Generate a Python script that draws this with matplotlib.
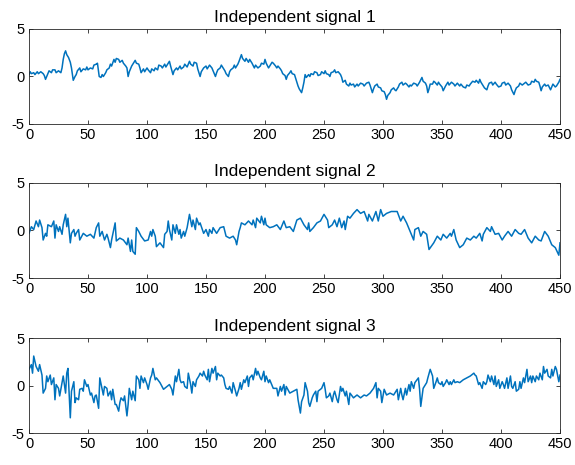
import matplotlib
matplotlib.use("Agg")
import matplotlib.pyplot as plt
import numpy as np

plt.rcParams['font.family'] = ['Liberation Sans', 'DejaVu Sans']
plt.rcParams['axes.unicode_minus'] = False

titles = ["Independent signal 1", "Independent signal 2", "Independent signal 3"]
xticks = [0, 50, 100, 150, 200, 250, 300, 350, 400, 450]
yticks = [-5, 0, 5]

s1 = [
(0,0.2),(1,0.5),(2,0.3),(4,0.4),(5,0.2),(7,0.5),(8,0.3),(10,0.5),(12,0.3),(13,0.1),(14,-0.3),
(16,0.3),(17,0.6),(19,0.4),(20,0.7),(22,0.7),(23,0.4),(25,0.6),(27,0.4),(28,0.9),(29,1.8),(30,2.4),
(31,2.7),(32,2.3),(33.5,2.0),(35,1.5),(36,0.9),(37.5,-0.4),(39,0.0),(40,0.2),(41,0.6),(43,0.9),(44,0.5),
(46,0.8),(48,0.7),(49,1.0),(50,0.7),(52,0.9),(54,0.8),(55,1.2),(57,1.3),(58,1.4),(59.5,0.0),(61,-0.1),
(62,0.2),(63,0.0),(65,0.4),(66,0.7),(68,0.9),(69,1.3),(70,1.1),(72,1.8),(73,1.5),(74,1.9),(76,1.8),
(77,1.5),(79,1.7),(80,1.4),(82,1.1),(83,0.9),(84,0.0),(85,0.5),(87,1.1),(88,1.3),(90,1.7),(91,1.4),
(93,1.3),(94,0.9),(95,0.4),(97,0.8),(98,0.5),(100,0.9),(101,0.7),(103,0.4),(104,0.8),(106,0.6),(107,0.9),
(109,0.7),(110,1.2),(112,1.1),(113,0.9),(115,1.3),(116,1.0),(118,1.4),(119,1.6),(120,1.1),(122,0.2),
(123,0.6),(125,0.9),(126,0.7),(128,1.1),(129,0.8),(131,1.0),(132,1.3),(134,1.0),(136,1.6),(137,1.3),
(139,1.1),(140,1.5),(142,1.4),(143,0.8),(145,0.0),(146,0.5),(148,0.9),(150,1.1),(151,0.8),(153,1.2),
(155,0.9),(156,0.6),(158,0.0),(159,0.4),(160,0.7),(162,0.9),(163,1.2),(165,0.8),(166,0.6),(167,0.3),
(169,0.0),(170,0.5),(171,0.7),(173,0.9),(174,1.2),(175,0.9),(177,1.3),(178,1.6),(180,2.3),(181,1.9),
(183,1.6),(184,1.9),(186,1.5),(187,1.8),(189,1.4),(191,0.9),(192,1.2),(194,0.9),(196,1.1),(197,1.4),
(199,1.3),(200,1.8),(201,1.4),(203,0.9),(204,1.1),(206,1.5),(207,1.4),(209,1.1),(210,0.9),(211,1.1),
(213,0.8),(214,0.6),(215,0.3),(217,0.1),(218,-0.3),(219,0.1),(221,0.4),(222,0.6),(223,0.3),(225,0.2),
(226,-0.2),(228,-1.0),(229,-1.3),(230,-1.5),(231,-1.7),(232,-1.2),(233,-0.6),(234,0.2),(235,-0.1),
(237,0.2),(238,0.0),(239,0.3),(241,0.2),(242,0.5),(244,0.4),(245,0.1),(247,0.2),(248,0.5),(250,0.3),
(251,0.6),(252,0.3),(254,0.2),(255,0.0),(256,0.4),(258,0.5),(259,0.7),(260,0.4),(262,0.5),(264,0.2),
(265,-0.1),(266,-0.6),(268,-0.4),(269,-0.8),(271,-1.0),(272,-0.7),(273,-0.9),(275,-0.8),(276,-1.1),
(278,-0.8),(279,-1.0),(281,-0.7),(283,-0.8),(284,-1.0),(286,-0.7),(288,-0.6),(289,-0.9),(290,-1.3),
(291,-1.7),(292,-1.3),(293,-1.0),(295,-0.8),(296,-1.1),(298,-1.2),(299,-1.5),(301,-1.6),(302,-1.9),
(303,-2.4),(304,-2.0),(306,-1.7),(307,-1.4),(309,-1.2),(310,-1.4),(311,-1.5),(313,-1.1),(314,-0.8),
(316,-0.6),(317,-0.9),(319,-0.7),(320,-0.8),(322,-1.1),(323,-0.9),(324,-1.0),(326,-0.7),(328,-0.8),
(329,-1.0),(331,-0.6),(333,-0.1),(334,-0.5),(336,-0.7),(337,-1.0),(338,-1.7),(339,-1.3),(340,-0.8),
(342,-0.8),(343,-0.5),(344,-0.6),(346,-0.9),(347,-0.6),(348,-0.8),(350,-1.1),(351,-1.5),(353,-1.0),
(355,-0.6),(356,-0.9),(358,-0.6),(360,-0.8),(361,-1.0),(363,-0.7),(365,-1.0),(366,-0.8),(368,-1.1),
(370,-1.2),(371,-0.9),(373,-1.0),(374,-0.8),(376,-0.5),(378,-0.6),(379,-0.4),(381,-0.7),(382,-0.3),
(383,-0.6),(385,-1.0),(386,-1.2),(388,-1.4),(389,-1.0),(390,-0.7),(392,-0.6),(393,-0.9),(395,-0.6),
(396,-0.8),(398,-1.1),(400,-1.0),(401,-0.7),(403,-0.6),(404,-0.9),(406,-0.7),(408,-1.0),(409,-1.4),
(411,-1.9),(412,-1.5),(413,-1.2),(415,-1.0),(416,-0.7),(418,-0.9),(419,-0.8),(421,-0.6),(423,-0.9),
(425,-0.8),(426,-0.5),(428,-0.6),(429,-0.3),(430,-0.5),(432,-0.6),(433,-1.0),(434,-1.5),(435,-1.1),
(437,-0.8),(438,-1.0),(440,-0.9),(442,-1.4),(443,-1.1),(444,-0.8),(446,-1.1),(447,-1.0),(449,-0.6),
(450,-0.3)]

s2 = [
(0,-0.3),(2,0.4),(4,0.1),(6,1.0),(8,0.4),(9,1.1),(11,0.3),(12,-1.0),(14,-0.3),(15,-0.6),(16,0.6),
(19,0.4),(21,1.0),(22,-0.8),(23,0.6),(25,-0.1),(26,0.4),(28,-0.4),(29,0.6),(31,1.7),(32,0.4),(33,1.3),
(35,-1.3),(36,-0.3),(38,0.1),(39,-0.6),(40,-0.3),(42,0.1),(43,-1.0),(46,-0.3),(49,-0.6),(52,-0.4),
(55,-0.8),(57,0.3),(59,0.8),(60,-0.6),(62,-0.1),(64,-1.0),(66,-0.4),(67,-0.8),(69,-1.8),(70,-1.0),
(73,0.8),(74,-1.1),(77,-0.8),(80,-1.0),(83,-1.5),(84,-0.8),(86,-2.2),(87,-1.0),(88,-2.2),(90,-2.5),
(91,0.3),(93,-0.1),(95,-0.6),(98,-1.1),(101,-1.0),(103,-0.1),(104,-0.6),(105,0.1),(107,-0.6),(108,-1.7),
(111,-1.3),(114,-1.8),(115,-0.4),(117,-0.1),(118,1.0),(119,0.1),(121,-1.0),(122,0.6),(124,-0.3),
(125,0.6),(127,-0.4),(128,0.1),(129,-0.8),(131,-0.1),(132,-0.6),(134,0.3),(136,1.7),(138,0.4),(139,1.1),
(141,0.1),(142,1.3),(144,0.6),(145,0.8),(148,-0.3),(150,0.1),(152,-0.6),(153,0.1),(155,-0.3),(156,0.3),
(159,-0.3),(162,0.3),(165,0.4),(166,-0.1),(167,-0.6),(170,-0.8),(173,-0.6),(175,-1.0),(176,-1.5),
(178,-0.1),(179,0.3),(180,0.8),(183,0.6),(186,1.0),(189,0.6),(190,1.1),(192,0.3),(193,1.3),(196,0.8),
(197,1.5),(199,0.6),(200,1.3),(201,0.6),(204,0.3),(207,0.4),(210,0.6),(213,0.1),(216,1.0),(218,0.3),
(221,0.4),(224,-0.1),(227,1.1),
(230,1.3),(233,0.6),(236,0.1),(237,0.8),(238,-0.1),(241,0.3),(244,0.8),(247,1.0),(250,1.7),(253,1.1),
(254,0.3),(257,0.6),(259,1.1),(261,0.4),(263,1.3),(265,0.3),(267,1.0),(268,0.1),(270,1.5),(272,1.3),
(275,1.8),(278,2.2),(281,1.8),(284,2.0),(287,1.0),(288,1.7),(291,1.0),(294,2.0),(296,1.0),(298,2.2),
(300,1.5),(303,1.8),(307,2.0),(312,2.0),(315,1.0),(317,1.5),(320,0.8),(323,-0.1),(326,-1.0),(327,0.1),
(330,0.3),(332,-0.6),(334,-0.1),(337,-0.4),(339,-2.0),
(343,-1.3),(346,-0.6),(349,-1.0),(351,-0.4),(354,-0.8),(357,-0.3),(358,-0.6),(360,0.1),(362,-1.0),
(365,-1.8),(368,-1.5),(371,-0.8),(374,-1.0),(377,-0.6),(379,-0.8),(382,-0.3),(384,-1.1),(385,-0.4),
(388,0.3),(391,-0.1),(392,0.4),(395,-0.4),(398,-0.3),(401,-1.0),(403,-0.6),(406,-0.1),(409,-0.6),
(412,0.1),(415,-0.3),(417,-0.4),(420,0.1),(423,-0.8),(426,-1.3),(429,-0.6),(432,-1.0),(434,-1.1),
(437,-0.1),(440,-0.6),(443,-1.5),(446,-1.8),(449,-2.6),(450,-1.3)]

s3 = [
(0,1.7),(2,2.2),(3,1.3),(4,3.1),(6,2.0),(8,1.5),(9,2.2),(11,1.1),(12,-0.8),(14,-0.3),(15,1.0),(16,0.4),
(18,1.1),(19,0.1),(21,0.8),(22,-1.5),(23,0.1),(25,-0.3),(26,-1.1),(28,0.3),(29,1.0),(31,-0.8),(32,1.3),
(33,1.8),(35,-3.4),(36,-0.6),(38,0.4),(39,-1.8),(40,-1.3),(42,-1.5),(43,-0.4),(45,-0.3),(46,-0.6),
(47,0.6),(49,-0.1),(50,0.1),(52,-1.0),(53,-0.8),(55,-1.8),(56,-1.1),(57,-1.0),(59,-2.4),(60,0.8),
(62,-0.4),(63,-1.0),(64,-0.1),(66,-0.3),(67,-1.1),(69,-0.6),(70,-1.5),(71,-0.4),(73,-2.0),(74,-2.0),
(76,-2.7),(77,-1.8),(78,-1.3),(80,-1.6),(81,-1.1),(83,-3.2),(84,-2.0),(85,-0.3),(87,-1.5),(88,-0.6),
(90,-1.6),(91,1.0),(93,0.6),(94,-0.3),(95,1.0),(97,0.3),(98,0.8),(100,0.1),(101,-0.4),(103,0.8),
(104,1.1),(105,1.8),(107,0.6),(108,0.8),
(111,0.3),(114,-0.4),(117,-0.1),(119,0.1),(121,-0.4),(122,-1.0),(124,1.0),(125,0.4),(127,1.7),(128,0.6),
(129,0.3),(131,0.4),(132,-0.1),(134,-0.3),(135,1.3),(137,0.1),(138,-0.8),(139,0.4),(141,-0.1),(142,0.6),
(144,1.0),(145,1.3),(147,1.0),(148,1.5),(149,1.1),(151,0.6),(152,1.7),(153,0.4),(155,1.8),(156,1.3),
(158,2.0),(159,0.6),(160,1.3),(162,1.0),(163,1.1),(165,0.8),(166,0.1),(167,-0.3),(169,-0.4),(170,-0.1),
(172,-0.8),(173,0.3),(175,-0.6),(176,-1.1),(178,-0.3),(179,0.3),(180,-0.4),(182,0.6),(183,0.3),(185,1.0),
(186,-0.1),(187,0.8),(189,1.1),(190,0.6),(192,1.8),(193,1.1),(194,1.5),(196,0.8),(197,0.6),(199,1.5),
(200,0.4),(201,1.0),(203,0.3),(204,0.6),(207,-0.3),(210,-0.3),(211,-1.1),(213,-0.1),(214,-0.6),
(216,0.1),(217,-1.0),(218,-0.1),(221,-0.8),(224,-0.6),(227,-0.4),(228,-1.5),
(230,-2.9),(231,-1.7),(233,-1.0),(234,0.3),(236,-0.6),(237,-1.8),(238,-2.2),(240,-1.3),(241,-1.0),
(243,-0.6),(244,-1.7),(245,-0.6),(248,-0.3),(250,0.3),(251,-0.4),(252,-1.3),(254,-1.1),(255,-0.8),
(257,-1.7),(258,-1.0),(259,-0.6),(261,-1.5),(262,-1.8),(264,-0.1),(265,-0.6),(266,-0.3),(268,-1.1),
(269,-0.6),(271,-2.0),(272,-0.8),(275,-1.3),(278,-1.0),(281,-1.3),(284,-1.0),(286,-1.1),(289,-0.8),
(292,-0.3),(294,0.3),(295,-1.3),(296,-0.3),(298,-0.6),(299,-1.8),(301,-0.4),(303,-1.0),(306,-0.8),
(309,-1.0),(312,-0.4),(313,-1.5),(315,-0.3),(316,-1.0),(317,-1.5),(319,-0.3),(320,-1.0),(322,0.1),
(323,-0.6),(324,0.4),(326,-0.3),(327,0.3),(330,0.8),(331,-0.4),(332,-2.2),(334,-0.3),(335,-0.1),
(337,0.3),(338,0.8),
(340,1.7),(342,1.0),(343,-0.3),(345,0.4),(346,0.8),(347,0.3),(349,0.1),(350,0.4),(351,-0.1),(353,0.3),
(354,0.6),(356,0.1),(357,0.4),(358,0.1),(360,0.6),(361,0.3),(363,0.4),(365,0.3),(368,0.6),(371,0.8),
(374,1.0),(377,1.3),(378,1.1),(379,1.0),(381,0.1),(382,0.3),(384,-0.3),(385,0.4),(387,0.1),(388,0.4),
(389,1.1),(391,0.4),(392,1.0),(394,0.1),(395,1.0),(396,-0.1),(398,0.6),(399,-0.3),(401,0.4),(402,0.1),
(403,-0.3),(405,0.8),(406,-0.3),(408,1.0),(409,-0.1),(410,-0.3),(412,0.4),(413,-0.6),(415,-0.4),
(416,0.4),(417,-0.3),(419,0.8),(420,0.3),(422,1.7),(423,0.4),(425,1.0),(426,0.3),(427,1.0),(429,0.4),
(430,1.0),(432,0.6),(433,1.3),(435,0.6),(436,2.0),(437,1.3),(439,1.7),(440,1.0),(442,0.8),(443,1.7),
(444,1.0),(446,2.0),(447,1.7),(449,0.4),(450,1.1)]

signals = [s1, s2, s3]

fig = plt.figure(figsize=(5.75, 4.65), dpi=100)
W, H = 575, 465
left, right = 29, 560
tops = [29, 183, 338]
height = 95
line_color = (0.0, 0.447, 0.741)
axc = (0.15, 0.15, 0.15)

for i, (sig, title) in enumerate(zip(signals, titles)):
    ax = fig.add_axes([left / W, 1 - (tops[i] + height) / H, (right - left) / W, height / H])
    arr = np.array(sig)
    ax.plot(arr[:, 0], arr[:, 1], color=line_color, lw=1.1)
    ax.set_xlim(0, 450)
    ax.set_ylim(-5, 5)
    ax.set_xticks(xticks)
    ax.set_yticks(yticks)
    ax.tick_params(direction='in', top=True, right=True, length=3, width=0.6,
                   colors=axc, labelcolor='black', labelsize=10.5, pad=3)
    for sp in ax.spines.values():
        sp.set_color(axc)
        sp.set_linewidth(0.6)
    ax.set_title(title, fontsize=12.5, pad=5)

fig.savefig("out.png", dpi=100)
